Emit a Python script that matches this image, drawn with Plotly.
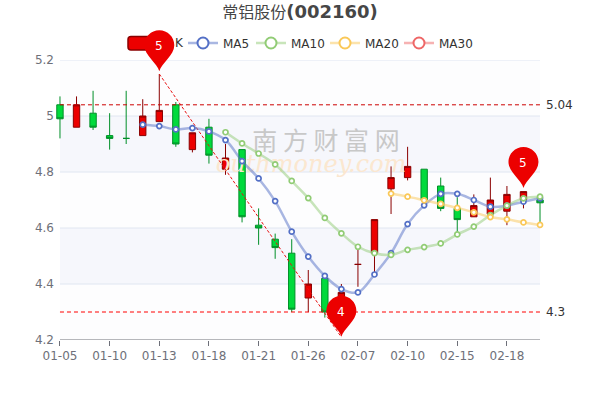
import plotly.graph_objects as go

dates = ["01-05","01-06","01-07","01-10","01-11","01-12","01-13","01-14","01-17","01-18","01-19","01-20","01-21","01-24","01-25","01-26","01-27","01-28","02-07","02-08","02-09","02-10","02-11","02-14","02-15","02-16","02-17","02-18","02-21","02-22"]
tick_labels = ["01-05","01-10","01-13","01-18","01-21","01-26","02-07","02-10","02-15","02-18"]
tick_index = [0,3,6,9,12,15,18,21,24,27]
opens  = [5.04,4.96,5.01,4.93,4.92,4.93,4.98,5.04,4.88,4.96,4.81,4.88,4.61,4.56,4.51,4.35,4.42,4.29,4.47,4.51,4.74,4.78,4.81,4.75,4.67,4.64,4.65,4.66,4.70,4.70]
closes = [4.99,5.04,4.96,4.92,4.92,5.00,5.02,4.90,4.94,4.86,4.85,4.64,4.60,4.53,4.31,4.40,4.30,4.37,4.47,4.63,4.78,4.82,4.70,4.67,4.63,4.68,4.70,4.72,4.73,4.69]
highs  = [5.07,5.07,5.09,5.01,5.09,5.06,5.15,5.05,4.94,4.99,4.90,4.88,4.67,4.58,4.56,4.45,4.42,4.40,4.53,4.63,4.82,4.89,4.81,4.78,4.71,4.72,4.78,4.75,4.73,4.72]
lows   = [4.92,4.96,4.95,4.88,4.90,4.93,4.98,4.89,4.87,4.83,4.79,4.62,4.54,4.49,4.30,4.30,4.28,4.22,4.39,4.44,4.65,4.77,4.70,4.66,4.58,4.64,4.65,4.61,4.67,4.62]
ma5  = [None]*5 + [4.969,4.964,4.952,4.957,4.945,4.914,4.839,4.777,4.696,4.587,4.498,4.429,4.382,4.370,4.434,4.510,4.614,4.681,4.722,4.722,4.700,4.676,4.680,4.694,4.706]
ma10 = [None]*10 + [4.942,4.902,4.866,4.827,4.768,4.707,4.636,4.581,4.533,4.510,4.504,4.522,4.532,4.545,4.577,4.605,4.646,4.680,4.706,4.712]
ma20 = [None]*20 + [4.723,4.712,4.699,4.686,4.672,4.656,4.639,4.631,4.620,4.611]
pin_index = [6,17,28]
pin_values = [5.16,4.212,4.743]
pin_labels = ["5","4","5"]
level_values = [5.04,4.3]
level_labels = ["5.04","4.3"]
level_colors = ["#cc0000","#ff0000"]
trend_index = [6,17]
trend_values = [5.15,4.21]
y_ticks = [4.2,4.4,4.6,4.8,5.0,5.2]
y_labels = ["4.2","4.4","4.6","4.8","5","5.2"]
ma_names = ["MA5","MA10","MA20","MA30"]
ma_colors = ["#5470c6","#91cc75","#fac858","#ee6666"]
ma_fade = ["rgba(84,112,198,0.5)","rgba(145,204,117,0.5)","rgba(250,200,88,0.5)","rgba(238,102,102,0.5)"]
legend_left = [183,251,325,399]

PL, PT, W, H = 55, 60, 490, 280      # plot box in window pixels
FW, FH = 600, 400
XR = [-0.3, 29.3]
YR = [4.2, 5.2]
def px(x): return (x-PL)/W
def py(y): return 1-(y-PT)/H
def fx(i): return (i-XR[0])/(XR[1]-XR[0])
def fy(v): return (v-YR[0])/(YR[1]-YR[0])

idx = list(range(len(dates)))
fig = go.Figure()

# watermark, underneath the marks
fig.add_trace(go.Scatter(x=[16.07], y=[4.90], mode="text", text=["南 方 财 富 网"], showlegend=False, hoverinfo="skip",
    textfont=dict(family="Noto Sans CJK SC", size=25, color="#c8c8c8")))
fig.add_trace(go.Scatter(x=[15.17], y=[4.82], mode="text", text=["outhmoney.com"], showlegend=False, hoverinfo="skip",
    textfont=dict(family="DejaVu Serif", size=24, color="#fbe7d0", style="italic")))

fig.add_trace(go.Candlestick(x=idx, open=opens, high=highs, low=lows, close=closes, showlegend=False,
    increasing=dict(fillcolor="#ec0000", line=dict(color="#8a0000", width=1)),
    decreasing=dict(fillcolor="#00da3c", line=dict(color="#008f28", width=1)),
    whiskerwidth=0))

for v, c in zip(level_values, level_colors):
    fig.add_trace(go.Scatter(x=[idx[0], idx[-1]], y=[v, v], mode="lines", showlegend=False, hoverinfo="skip",
        line=dict(color=c, width=1, dash="4px,3px")))
fig.add_trace(go.Scatter(x=trend_index, y=trend_values, mode="lines", showlegend=False, hoverinfo="skip",
    line=dict(color="#e81010", width=1, dash="3px,2px")))

for name, vals, c, f in zip(ma_names, [ma5, ma10, ma20], ma_colors, ma_fade):
    fig.add_trace(go.Scatter(x=idx, y=vals, mode="lines+markers", showlegend=False, name=name,
        line=dict(color=f, width=2.5, shape="spline", smoothing=1),
        marker=dict(size=5, color="white", line=dict(color=c, width=1.7))))
for k, (name, c, f) in enumerate(zip(ma_names, ma_colors, ma_fade)):
    fig.add_trace(go.Scatter(x=[None], y=[None], mode="lines+markers", name=name, showlegend=True,
        legend="legend" if k == 0 else f"legend{k+1}",
        line=dict(color=f, width=2.5),
        marker=dict(size=11, color="white", line=dict(color=c, width=2))))

shapes = []
for i in range(len(y_ticks)-1):
    shapes.append(dict(type="rect", xref="x", yref="y", x0=idx[0], x1=idx[-1], y0=y_ticks[i], y1=y_ticks[i+1],
        fillcolor="#f6f7fc" if i in (1,3) else "#fdfdfe", line=dict(width=0), layer="below"))
for v in y_ticks[1:]:
    shapes.append(dict(type="line", xref="x", yref="y", x0=idx[0], x1=idx[-1], y0=v, y1=v,
        line=dict(color="#e0e6f1", width=1), layer="below"))
shapes.append(dict(type="line", xref="x", yref="y", x0=idx[0], x1=idx[-1], y0=y_ticks[0], y1=y_ticks[0],
    line=dict(color="#6e7079", width=1), layer="above"))
# watermark crescent
shapes.append(dict(type="path", xref="paper", yref="paper", layer="below", line=dict(width=0), fillcolor="#fcebd7",
    path=f"M {px(249)} {py(127)} C {px(226)} {py(130)} {px(214)} {py(155)} {px(200)} {py(176)} "
         f"C {px(212)} {py(172)} {px(222)} {py(175)} {px(238)} {py(177)} C {px(224)} {py(170)} {px(218)} {py(142)} {px(249)} {py(127)} Z"))
# K legend swatch
shapes.append(dict(type="path", xref="paper", yref="paper", layer="above",
    fillcolor="#ec0000", line=dict(color="#8a0000", width=1.5),
    path=f"M {px(131)} {py(36.5)} L {px(160)} {py(36.5)} L {px(160)} {py(50)} L {px(131)} {py(50)} "
         f"Q {px(128)} {py(50)} {px(128)} {py(47)} L {px(128)} {py(39.5)} Q {px(128)} {py(36.5)} {px(131)} {py(36.5)} Z"))
# pins
pin = "M 0 0 C -2 8 -15 16 -15 26 C -15 34.3 -8.3 41 0 41 C 8.3 41 15 34.3 15 26 C 15 16 2 8 0 0 Z"
for i, v in zip(pin_index, pin_values):
    shapes.append(dict(type="path", xsizemode="pixel", ysizemode="pixel", xref="paper", yref="paper",
        xanchor=fx(i), yanchor=fy(v), path=pin, fillcolor="#ec0000", line=dict(width=0), layer="above"))

annotations = []
for i, v, t in zip(pin_index, pin_values, pin_labels):
    annotations.append(dict(x=fx(i), y=fy(v), xref="paper", yref="paper", text=t, showarrow=False, yshift=25,
        xanchor="center", yanchor="middle", font=dict(family="DejaVu Sans", size=12, color="white")))
for v, t in zip(level_values, level_labels):
    annotations.append(dict(x=idx[-1], y=v, xref="x", yref="y", text=t, showarrow=False, xanchor="left", xshift=4,
        font=dict(family="DejaVu Sans", size=12, color="#333")))
annotations.append(dict(x=px(170), y=py(43), xref="paper", yref="paper", text="K", showarrow=False, xanchor="left", xshift=3,
    yanchor="middle", font=dict(family="DejaVu Sans", size=12, color="#333")))

legend_common = dict(orientation="h", xanchor="left", yanchor="middle", y=py(43),
    font=dict(family="DejaVu Sans", size=12, color="#333"), bgcolor="rgba(0,0,0,0)")
legends = {("legend" if k == 0 else f"legend{k+1}"): dict(x=px(x), **legend_common) for k, x in enumerate(legend_left)}

fig.update_layout(
    width=FW, height=FH, autosize=False,
    margin=dict(l=PL, r=FW-PL-W, t=PT, b=FH-PT-H),
    paper_bgcolor="white", plot_bgcolor="white",
    boxgap=0.45,
    title=dict(text='<span style="font-size:16px;font-family:Noto Sans CJK SC">常铝股份</span><b>(002160)</b>',
        x=0.5, xanchor="center", y=1-12/FH, yanchor="middle",
        font=dict(family="DejaVu Sans", size=18, color="#464646")),
    shapes=shapes, annotations=annotations,
    xaxis=dict(range=XR, tickmode="array", tickvals=tick_index, ticktext=tick_labels, showgrid=False,
        zeroline=False, showline=False, ticks="outside", ticklen=5, tickcolor="#6e7079", tickwidth=1,
        tickfont=dict(family="DejaVu Sans", size=12, color="#6e7079"), rangeslider=dict(visible=False)),
    yaxis=dict(range=YR, tickmode="array", tickvals=y_ticks, ticktext=y_labels, showgrid=False,
        zeroline=False, showline=False, ticks="",
        tickfont=dict(family="DejaVu Sans", size=12, color="#6e7079")),
    **legends,
)
# the page's default 8px body margin would push the fixed-size figure off the window
fig.write_html("out.html", config={"displayModeBar": False}, post_script="document.body.style.margin='0';")
